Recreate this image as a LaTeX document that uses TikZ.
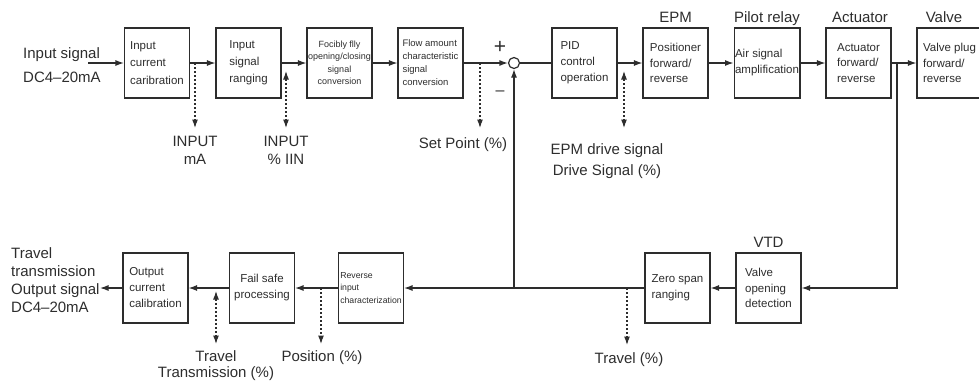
\documentclass[tikz,border=0pt]{standalone}
\usepackage{fontspec}
\setmainfont{Liberation Sans}
\usetikzlibrary{arrows.meta}
\definecolor{lgray}{RGB}{45,45,45}

\begin{document}
\begin{tikzpicture}[x=1pt, y=-1pt, >={Latex[length=8.5pt,width=6pt]},
  every node/.style={text=lgray},
  block/.style={draw=lgray, line width=1.1pt, minimum width=65pt, minimum height=70pt, inner xsep=1pt, align=left, font=\fontsize{11.5}{16}\selectfont},
  lbl/.style={inner sep=0pt, align=center, font=\fontsize{15}{18}\selectfont},
  sig/.style={->, draw=lgray, line width=1.2pt},
  tap/.style={draw=lgray, line width=1.1pt, dash pattern=on 2pt off 2pt}]

\useasboundingbox (0,0) rectangle (979,383);

% forward path
\node[block, font=\fontsize{11.5}{17.5}\selectfont] (incal) at (157,63) {Input\\current\\caribration};
\node[block, font=\fontsize{11.5}{17}\selectfont] (inrange) at (248.5,63) {Input\\signal\\ranging};
\node[block, align=center, font=\fontsize{9}{12.5}\selectfont] (openclose) at (339.5,63) {Focibly flly\\opening/closing\\signal\\conversion};
\node[block, font=\fontsize{9.5}{13}\selectfont] (flowchar) at (430.5,63) {Flow amount\\characteristic\\signal\\conversion};
\node[draw=lgray, circle, line width=1.2pt, minimum size=11pt, inner sep=0pt] (sum) at (514,63) {};
\node[block] (pid) at (584.5,63) {PID\\control\\operation};
\node[block, font=\fontsize{11.5}{15.5}\selectfont] (epm) at (675.5,63) {Positioner\\forward/\\reverse};
\node[block] (pilot) at (767,63) {Air signal\\amplification};
\node[block, font=\fontsize{11.5}{15.5}\selectfont] (act) at (858.5,63) {Actuator\\forward/\\reverse};
\node[block, font=\fontsize{11.5}{15.5}\selectfont] (valve) at (949.5,63) {Valve plug\\forward/\\reverse};

\node[lbl, anchor=base] (epmname) at (675.5,22) {EPM};
\node[lbl, anchor=base] (pilotname) at (767,22) {Pilot relay};
\node[lbl, anchor=base] (actname) at (860,22) {Actuator};
\node[lbl, anchor=base] (valvename) at (944,22) {Valve};

\node[lbl, align=left, anchor=north west, font=\fontsize{15}{24}\selectfont] (insig) at (23,47) {Input signal\\DC4--20mA};
\node[lbl, font=\fontsize{21}{22}\selectfont] (plus) at (500,47) {+};
\node[lbl, font=\fontsize{16}{18}\selectfont] (minus) at (500,93) {--};

\coordinate (insrc) at (88,63);
\draw[sig] (insrc) -- (incal);
\draw[sig] (incal) -- (inrange);
\draw[sig] (inrange) -- (openclose);
\draw[sig] (openclose) -- (flowchar);
\draw[sig] (flowchar) -- (sum);
\draw[draw=lgray, line width=1.2pt] (sum) -- (pid);
\draw[sig] (pid) -- (epm);
\draw[sig] (epm) -- (pilot);
\draw[sig] (pilot) -- (act);
\draw[sig] (act) -- (valve);

% monitor taps, upper row
\coordinate (tapmA) at (195,63);
\coordinate (endmA) at (195,128);
\draw[tap, ->] (tapmA) -- (endmA) node[lbl, below=8pt] (inmA) {INPUT\\mA};
\coordinate (tapiin) at (286,71);
\coordinate (endiin) at (286,128);
\draw[tap, <->] (tapiin) -- (endiin) node[lbl, below=8pt] (iin) {INPUT\\\% IIN};
\coordinate (tapsp) at (480,63);
\coordinate (endsp) at (480,128);
\draw[tap, ->] (tapsp) -- (endsp);
\node[lbl, anchor=north] (setpt) at (463,137) {Set Point (\%)};
\coordinate (tapdrv) at (624,71);
\coordinate (enddrv) at (624,128);
\draw[tap, <->] (tapdrv) -- (enddrv);
\node[lbl, anchor=north, font=\fontsize{15}{21}\selectfont] (drive) at (607,143) {EPM drive signal\\Drive Signal (\%)};

% feedback path
\node[block, font=\fontsize{11.5}{15.5}\selectfont] (vtd) at (768.5,288) {Valve\\opening\\detection};
\node[block] (zero) at (677.5,288) {Zero span\\ranging};
\node[block, font=\fontsize{8.7}{12.5}\selectfont] (rev) at (371,288) {Reverse\\input\\characterization};
\node[block, align=center] (fail) at (262,288) {Fail safe\\processing};
\node[block] (outcal) at (155.5,288) {Output\\current\\calibration};
\node[lbl, anchor=base] (vtdname) at (768.5,247) {VTD};

\coordinate (fbtap) at (897,63);
\coordinate (fbcorner) at (897,288);
\coordinate (fbjoin) at (514,288);
\coordinate (outend) at (100,288);
\draw[sig] (fbtap) -- (fbcorner) -- (vtd);
\draw[sig] (vtd) -- (zero);
\draw[sig] (zero) -- (rev);
\draw[sig] (fbjoin) -- (sum);
\draw[sig] (rev) -- (fail);
\draw[sig] (fail) -- (outcal);
\draw[sig] (outcal) -- (outend);

\node[lbl, align=left, anchor=north west, font=\fontsize{15}{18.3}\selectfont] (outsig) at (11,247) {Travel\\transmission\\Output signal\\DC4--20mA};

% monitor taps, lower row
\coordinate (taptrv) at (627,288);
\coordinate (endtrv) at (627,345);
\draw[tap, ->] (taptrv) -- (endtrv);
\node[lbl, anchor=north] (travel) at (629,352) {Travel (\%)};
\coordinate (tappos) at (321,288);
\coordinate (endpos) at (321,344);
\draw[tap, ->] (tappos) -- (endpos);
\node[lbl, anchor=north] (position) at (322,350) {Position (\%)};
\coordinate (taptt) at (216,291);
\coordinate (endtt) at (216,344);
\draw[tap, <->] (taptt) -- (endtt);
\node[lbl, anchor=north, font=\fontsize{15}{16}\selectfont] (trvtrans) at (216,350) {Travel\\Transmission (\%)};
\end{tikzpicture}
\end{document}
